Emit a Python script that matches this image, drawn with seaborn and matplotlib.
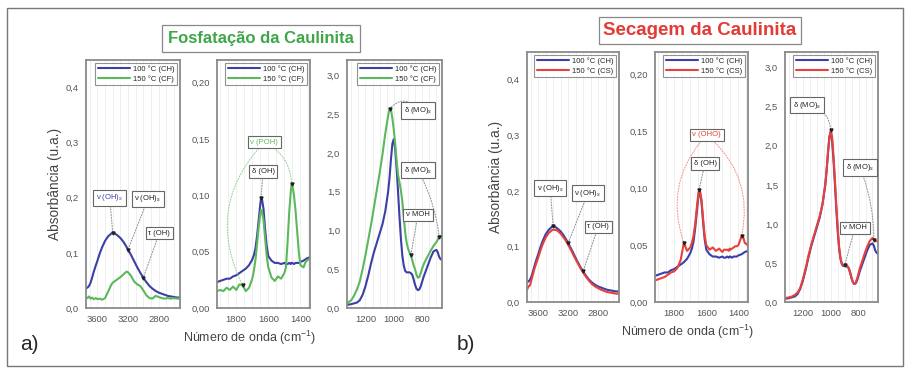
import numpy as np
import seaborn as sns
import matplotlib.pyplot as plt
from matplotlib.ticker import MultipleLocator, AutoMinorLocator, FuncFormatter
from matplotlib.patches import Rectangle

# ---- dados ----
# regiao OH (3750 - 2520 cm-1)
wn_oh = [3750, 3730, 3710, 3690, 3670, 3650, 3620, 3600, 3570, 3540, 3500, 3460, 3420, 3400,
         3370, 3340, 3300, 3260, 3220, 3200, 3160, 3120, 3080, 3040, 3000, 2960, 2920, 2880,
         2840, 2800, 2760, 2720, 2680, 2640, 2600, 2560, 2520]
oh_ch = [0.036, 0.037, 0.040, 0.046, 0.055, 0.065, 0.078, 0.086, 0.099, 0.110, 0.122, 0.130,
         0.135, 0.136, 0.135, 0.132, 0.127, 0.120, 0.111, 0.106, 0.096, 0.085, 0.074, 0.064,
         0.055, 0.047, 0.040, 0.035, 0.031, 0.028, 0.026, 0.024, 0.022, 0.021, 0.020, 0.019, 0.019]
oh_cf = [0.020, 0.018, 0.021, 0.017, 0.019, 0.016, 0.018, 0.016, 0.017, 0.015, 0.018, 0.030,
         0.042, 0.046, 0.049, 0.052, 0.056, 0.061, 0.066, 0.065, 0.058, 0.048, 0.043, 0.040,
         0.032, 0.023, 0.018, 0.017, 0.022, 0.020, 0.018, 0.017, 0.018, 0.017, 0.018, 0.017, 0.017]
oh_cs = [0.022, 0.028, 0.030, 0.040, 0.050, 0.060, 0.072, 0.080, 0.093, 0.104, 0.116, 0.124,
         0.129, 0.130, 0.130, 0.128, 0.123, 0.116, 0.108, 0.103, 0.093, 0.082, 0.072, 0.062,
         0.053, 0.045, 0.038, 0.032, 0.028, 0.025, 0.022, 0.020, 0.018, 0.017, 0.016, 0.015, 0.015]

# regiao 1920 - 1340 cm-1
wn_mid = [1920, 1900, 1880, 1860, 1840, 1820, 1800, 1780, 1760, 1740, 1720, 1700, 1690, 1680,
          1670, 1660, 1650, 1645, 1640, 1630, 1620, 1610, 1600, 1580, 1560, 1540, 1520, 1500,
          1490, 1480, 1470, 1460, 1455, 1450, 1440, 1430, 1420, 1410, 1400, 1380, 1370, 1360,
          1340]
mid_ch = [0.023, 0.024, 0.025, 0.026, 0.026, 0.028, 0.029, 0.031, 0.033, 0.035, 0.038, 0.043,
          0.047, 0.053, 0.064, 0.078, 0.092, 0.098, 0.097, 0.088, 0.070, 0.055, 0.046, 0.042,
          0.040, 0.040, 0.039, 0.040, 0.039, 0.039, 0.040, 0.039, 0.040, 0.040, 0.039, 0.040,
          0.040, 0.040, 0.041, 0.042, 0.043, 0.044, 0.045]
mid_cf = [0.015, 0.016, 0.015, 0.018, 0.016, 0.019, 0.016, 0.021, 0.020, 0.015, 0.018, 0.026,
          0.033, 0.043, 0.057, 0.072, 0.084, 0.087, 0.086, 0.078, 0.062, 0.046, 0.036, 0.027,
          0.024, 0.028, 0.026, 0.031, 0.036, 0.058, 0.084, 0.103, 0.110, 0.109, 0.100, 0.086,
          0.068, 0.050, 0.038, 0.036, 0.040, 0.042, 0.044]
mid_cs = [0.019, 0.020, 0.021, 0.022, 0.024, 0.026, 0.027, 0.030, 0.037, 0.052, 0.045, 0.048,
          0.052, 0.058, 0.068, 0.082, 0.095, 0.099, 0.098, 0.090, 0.073, 0.058, 0.050, 0.046,
          0.048, 0.045, 0.047, 0.044, 0.046, 0.046, 0.046, 0.045, 0.047, 0.046, 0.047, 0.048,
          0.049, 0.049, 0.050, 0.058, 0.057, 0.052, 0.050]

# regiao 1330 - 660 cm-1
wn_low = [1330, 1300, 1280, 1260, 1240, 1220, 1200, 1180, 1160, 1140, 1120, 1100, 1080, 1060,
          1040, 1030, 1020, 1010, 1000, 990, 980, 970, 960, 950, 940, 930, 920, 910, 900, 890,
          880, 870, 860, 850, 840, 830, 820, 810, 800, 790, 780, 760, 740, 720, 700, 690, 680,
          670, 660]
low_ch = [0.04, 0.05, 0.06, 0.07, 0.10, 0.17, 0.28, 0.42, 0.58, 0.72, 0.84, 0.96, 1.08, 1.25,
          1.50, 1.68, 1.92, 2.12, 2.18, 2.05, 1.80, 1.50, 1.18, 0.90, 0.68, 0.55, 0.48, 0.46,
          0.46, 0.46, 0.45, 0.43, 0.37, 0.30, 0.25, 0.23, 0.24, 0.28, 0.34, 0.40, 0.45, 0.55,
          0.65, 0.73, 0.75, 0.72, 0.66, 0.63, 0.62]
low_cf = [0.06, 0.10, 0.16, 0.24, 0.34, 0.50, 0.68, 0.88, 1.08, 1.30, 1.52, 1.74, 1.98, 2.25,
          2.48, 2.57, 2.56, 2.45, 2.30, 2.12, 1.90, 1.72, 1.62, 1.52, 1.38, 1.18, 0.98, 0.85,
          0.77, 0.72, 0.68, 0.62, 0.55, 0.50, 0.43, 0.39, 0.40, 0.45, 0.51, 0.56, 0.60, 0.67,
          0.74, 0.80, 0.85, 0.88, 0.92, 0.93, 0.92]
low_cs = [0.05, 0.06, 0.07, 0.09, 0.12, 0.18, 0.30, 0.44, 0.60, 0.74, 0.86, 0.98, 1.10, 1.25,
          1.50, 1.70, 1.92, 2.10, 2.20, 2.10, 1.85, 1.55, 1.22, 0.94, 0.70, 0.56, 0.49, 0.47,
          0.47, 0.47, 0.46, 0.43, 0.37, 0.30, 0.25, 0.23, 0.25, 0.30, 0.37, 0.44, 0.49, 0.60,
          0.70, 0.78, 0.82, 0.80, 0.78, 0.78, 0.77]

c_ch, c_cf, c_cs = "#3b3fa6", "#5cb85c", "#e8403a"

sns.set_style("white")
plt.rcParams["font.family"] = ["Liberation Sans", "DejaVu Sans"]
plt.rcParams["mathtext.fontset"] = "custom"
plt.rcParams["mathtext.rm"] = "Liberation Sans"
plt.rcParams["mathtext.it"] = "Liberation Sans:italic"

fig = plt.figure(figsize=(9.09, 3.70), dpi=100)


def fmt(dec):
    return FuncFormatter(lambda v, p: (f"%.{dec}f" % v).replace(".", ","))


def on(xs, ys, x0):
    i = int(np.argmin(np.abs(np.array(xs) - x0)))
    return (xs[i], ys[i])


def style(ax, xlim, ylim, xmaj, ymaj, ydec):
    ax.set_xlim(*xlim)
    ax.set_ylim(*ylim)
    ax.xaxis.set_major_locator(MultipleLocator(xmaj))
    ax.yaxis.set_major_locator(MultipleLocator(ymaj))
    ax.xaxis.set_minor_locator(AutoMinorLocator(4))
    ax.yaxis.set_minor_locator(AutoMinorLocator(5))
    ax.yaxis.set_major_formatter(fmt(ydec))
    ax.xaxis.set_major_formatter(FuncFormatter(lambda v, p: "%d" % v))
    ax.tick_params(which="major", direction="inout", length=6, width=0.9, colors="#555",
                   labelsize=6.8, pad=2)
    ax.tick_params(which="minor", direction="inout", length=3.5, width=0.7, colors="#555")
    ax.grid(axis="x", which="both", color="#ededed", lw=0.6)
    for s in ax.spines.values():
        s.set_color("#8a8a8a")
        s.set_linewidth(1.3)
    ax.set_xlabel("")
    ax.set_ylabel("")


def tag(ax, text, box, targets, color="#222", line="#999"):
    ax.text(box[0], box[1], text, fontsize=5.5, color=color, ha="center", va="center",
            bbox=dict(boxstyle="square,pad=0.35", fc="white", ec="#666", lw=0.8), zorder=6)
    for t, r in targets:
        ax.annotate("", xy=t, xytext=box,
                    arrowprops=dict(arrowstyle="-", linestyle=(0, (1, 1.5)), color=line, lw=0.8,
                                    shrinkA=6, shrinkB=1, connectionstyle=f"arc3,rad={r}"),
                    zorder=5)
        ax.plot(t[0], t[1], marker="v", ms=2.2, color="#222", zorder=7)


def panel(axs, other, c_other, lab_other, kind):
    a1, a2, a3 = axs
    xs = [wn_oh, wn_mid, wn_low]
    ch = [oh_ch, mid_ch, low_ch]
    for ax, x, y1, y2 in zip(axs, xs, ch, other):
        sns.lineplot(x=x, y=y1, ax=ax, color=c_ch, lw=1.5, label="100 °C (CH)", sort=False)
        sns.lineplot(x=x, y=y2, ax=ax, color=c_other, lw=1.5, label=lab_other, sort=False)
        leg = ax.legend(loc="upper right", fontsize=5.5, frameon=True, fancybox=False,
                        edgecolor="#777", handlelength=4.2, borderaxespad=0.35, borderpad=0.35,
                        labelspacing=0.25, handletextpad=0.4)
        leg.get_frame().set_linewidth(0.8)
    style(a1, (3750, 2520), (0, 0.45), 400, 0.1, 1)
    style(a2, (1920, 1340), (0, 0.22), 200, 0.05, 2)
    style(a3, (1330, 660), (0, 3.2), 200, 0.5, 1)
    a1.set_ylabel("Absorbância (u.a.)", fontsize=9.8, color="#444", labelpad=3)

    oh_o, mid_o, low_o = other
    if kind == "a":
        tag(a1, "ν (OH)$_s$", (3440, 0.200), [(on(wn_oh, oh_ch, 3400), 0)], color=c_ch)
        tag(a1, "ν (OH)$_s$", (2940, 0.198), [(on(wn_oh, oh_ch, 3200), 0)])
        tag(a1, "τ (OH)", (2790, 0.136), [(on(wn_oh, oh_ch, 3000), 0)])
        tag(a2, "ν (POH)", (1625, 0.147),
            [(on(wn_mid, mid_o, 1760), 0.35), (on(wn_mid, mid_o, 1455), -0.3)],
            color=c_other, line="#9fd39f")
        tag(a2, "δ (OH)", (1633, 0.121), [(on(wn_mid, mid_ch, 1645), 0)])
        tag(a3, "δ (MO)$_s$", (830, 2.55), [(on(wn_low, low_o, 1030), 0.6)])
        tag(a3, "δ (MO)$_s$", (830, 1.78), [(on(wn_low, low_o, 680), -0.1)])
        tag(a3, "ν MOH", (830, 1.20), [(on(wn_low, low_o, 880), 0)])
    else:
        tag(a1, "ν (OH)$_s$", (3440, 0.205), [(on(wn_oh, oh_ch, 3400), 0)])
        tag(a1, "ν (OH)$_s$", (2935, 0.196), [(on(wn_oh, oh_ch, 3200), 0)])
        tag(a1, "τ (OH)", (2800, 0.135), [(on(wn_oh, oh_ch, 3000), 0)])
        tag(a2, "ν (OHO)", (1598, 0.147),
            [(on(wn_mid, mid_o, 1740), 0.3), (on(wn_mid, mid_o, 1380), -0.3)],
            color=c_other, line="#f09a96")
        tag(a2, "δ (OH)", (1608, 0.122), [(on(wn_mid, mid_o, 1645), 0)])
        tag(a3, "δ (MO)$_s$", (1172, 2.52), [(on(wn_low, low_o, 1000), -0.4)])
        tag(a3, "δ (MO)$_s$", (790, 1.72), [(on(wn_low, low_o, 690), -0.1)])
        tag(a3, "ν MOH", (826, 0.95), [(on(wn_low, low_o, 900), 0)])


fig.add_artist(Rectangle((7 / 909, 1 - 366 / 370), 896 / 909, 358 / 370,
                         transform=fig.transFigure, fill=False, ec="#777", lw=1))

axa = [fig.add_axes([86 / 909, 1 - 308 / 370, 94 / 909, 248 / 370]),
       fig.add_axes([217 / 909, 1 - 308 / 370, 93 / 909, 248 / 370]),
       fig.add_axes([347 / 909, 1 - 308 / 370, 95 / 909, 248 / 370])]
axb = [fig.add_axes([527 / 909, 1 - 302 / 370, 92 / 909, 250 / 370]),
       fig.add_axes([655 / 909, 1 - 302 / 370, 93 / 909, 250 / 370]),
       fig.add_axes([785 / 909, 1 - 302 / 370, 93 / 909, 250 / 370])]

panel(axa, [oh_cf, mid_cf, low_cf], c_cf, "150 °C (CF)", "a")
panel(axb, [oh_cs, mid_cs, low_cs], c_cs, "150 °C (CS)", "b")

fig.text(261 / 909, 1 - 38.5 / 370, "Fosfatação da Caulinita", fontsize=12, fontweight="bold",
         color="#3fa648", ha="center", va="center",
         bbox=dict(boxstyle="square,pad=0.35", fc="white", ec="#888", lw=0.9))
fig.text(700 / 909, 1 - 30.5 / 370, "Secagem da Caulinita", fontsize=13.5, fontweight="bold",
         color="#e33b36", ha="center", va="center",
         bbox=dict(boxstyle="square,pad=0.25", fc="white", ec="#888", lw=0.9))
fig.text(250 / 909, 1 - 338 / 370, "Número de onda (cm$^{-1}$)", fontsize=9, color="#444",
         ha="center", va="center")
fig.text(688 / 909, 1 - 332 / 370, "Número de onda (cm$^{-1}$)", fontsize=9, color="#444",
         ha="center", va="center")
fig.text(20 / 909, 1 - 345 / 370, "a)", fontsize=15, ha="left", va="center")
fig.text(457 / 909, 1 - 345 / 370, "b)", fontsize=15, ha="left", va="center")

plt.savefig("out.png", dpi=100)
